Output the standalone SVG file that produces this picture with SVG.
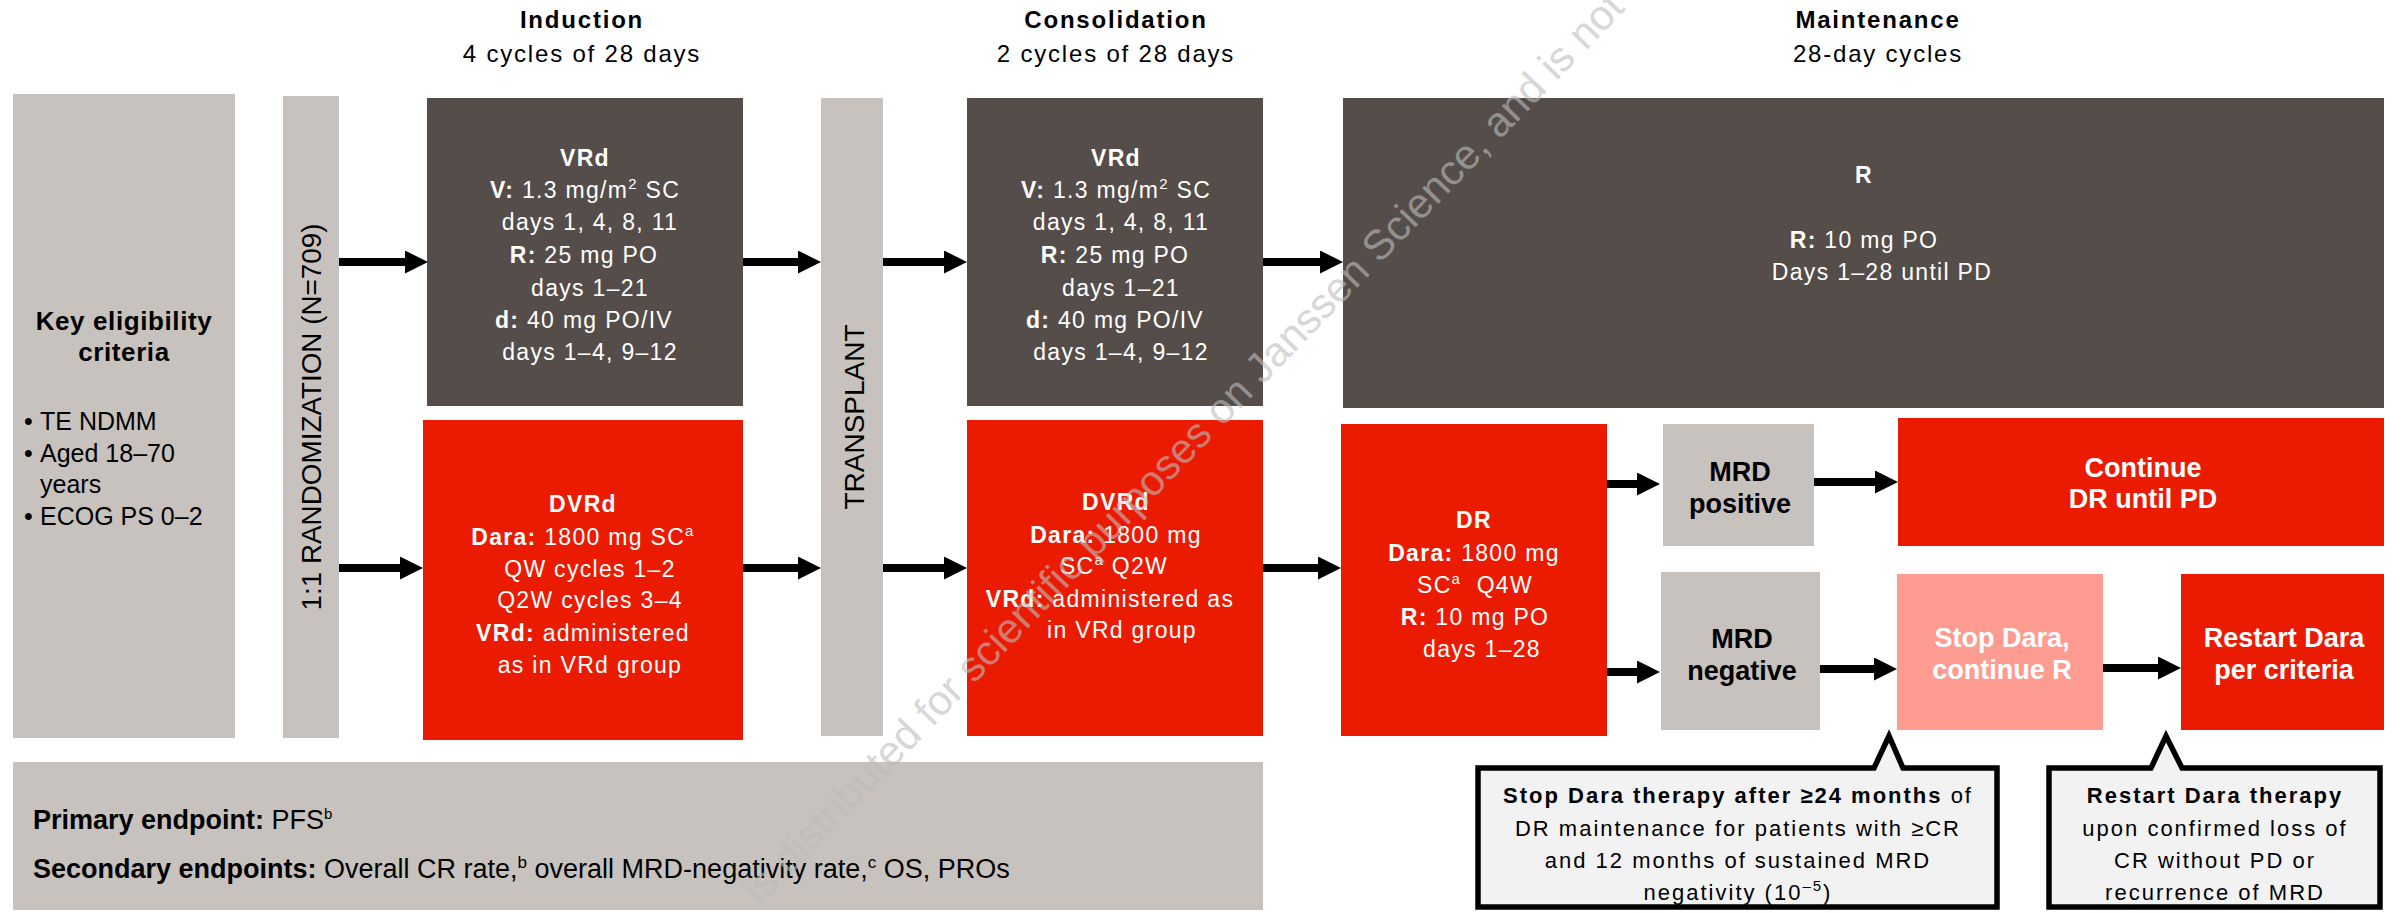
<svg xmlns="http://www.w3.org/2000/svg" width="2402" height="913" viewBox="0 0 2402 913">
<defs>
<style>
text{font-family:"Liberation Sans",Arial,Helvetica,sans-serif}
.title{font-size:24px;letter-spacing:1.8px;text-anchor:middle;fill:#000}
.body{font-size:23px;letter-spacing:1.3px;text-anchor:middle;fill:#fff}
.head{font-size:27px;font-weight:bold;text-anchor:middle}
.call{font-size:22px;letter-spacing:2px;text-anchor:middle;fill:#000}
.ep{font-size:27px;fill:#000}
.b{font-weight:bold}
.sup{font-size:15px}
.dark{fill:#554D49}
.red{fill:#EB1B02}
.grey{fill:#C7C2BE}
.pink{fill:#FF9C92}
.callout{fill:#F2F2F2;stroke:#000;stroke-width:5.5;stroke-linejoin:miter}
</style>
<marker id="ah" markerUnits="userSpaceOnUse" markerWidth="23" markerHeight="23" refX="11" refY="11.5" orient="auto" viewBox="0 0 23 23">
<path d="M0,0 L23,11.5 L0,23 Z" fill="#000"/>
</marker>
</defs>
<rect width="2402" height="913" fill="#fff"/>

<g id="titles">
<text class="title" x="582" y="28" font-weight="bold">Induction</text>
<text class="title" x="582" y="62">4 cycles of 28 days</text>
<text class="title" x="1116" y="28" font-weight="bold">Consolidation</text>
<text class="title" x="1116" y="62">2 cycles of 28 days</text>
<text class="title" x="1878" y="28" font-weight="bold">Maintenance</text>
<text class="title" x="1878" y="62">28-day cycles</text>
</g>

<g id="eligibility">
<rect class="grey" x="13" y="94" width="222" height="644"/>
<text x="124" y="330" font-size="26" font-weight="bold" text-anchor="middle" letter-spacing="0.6">Key eligibility</text>
<text x="124" y="361" font-size="26" font-weight="bold" text-anchor="middle" letter-spacing="0.6">criteria</text>
<text font-size="25" fill="#000"><tspan x="24" y="430">•</tspan><tspan x="40" y="430">TE NDMM</tspan><tspan x="24" y="462">•</tspan><tspan x="40" y="462">Aged 18–70</tspan><tspan x="40" y="493">years</tspan><tspan x="24" y="525">•</tspan><tspan x="40" y="525">ECOG PS 0–2</tspan></text>
</g>

<g id="randomization">
<rect class="grey" x="283" y="96" width="56" height="642"/>
<text transform="translate(321,417) rotate(-90)" font-size="28" text-anchor="middle" fill="#000" textLength="387" lengthAdjust="spacingAndGlyphs">1:1 RANDOMIZATION (N=709)</text>
</g>

<g id="induction-vrd">
<rect class="dark" x="427" y="98" width="316" height="308"/>
<text class="body" x="585" y="166" font-weight="bold">VRd</text>
<text class="body" x="585" y="198"><tspan class="b">V:</tspan> 1.3 mg/m<tspan class="sup" dy="-9">2</tspan><tspan dy="9"> SC</tspan></text>
<text class="body" x="590" y="230">days 1, 4, 8, 11</text>
<text class="body" x="584" y="263"><tspan class="b">R:</tspan> 25 mg PO</text>
<text class="body" x="590" y="296">days 1–21</text>
<text class="body" x="584" y="328"><tspan class="b">d:</tspan> 40 mg PO/IV</text>
<text class="body" x="590" y="360">days 1–4, 9–12</text>
</g>

<g id="induction-dvrd">
<rect class="red" x="423" y="420" width="320" height="320"/>
<text class="body" x="583" y="512" font-size="24" font-weight="bold">DVRd</text>
<text class="body" x="583" y="545"><tspan class="b">Dara:</tspan> 1800 mg SC<tspan class="sup" dy="-9">a</tspan></text>
<text class="body" x="590" y="577">QW cycles 1–2</text>
<text class="body" x="590" y="608">Q2W cycles 3–4</text>
<text class="body" x="583" y="641"><tspan class="b">VRd:</tspan> administered</text>
<text class="body" x="590" y="673">as in VRd group</text>
</g>

<g id="transplant">
<rect class="grey" x="821" y="98" width="62" height="638"/>
<text transform="translate(864,417) rotate(-90)" font-size="28" text-anchor="middle" fill="#000">TRANSPLANT</text>
</g>

<g id="consolidation-vrd">
<rect class="dark" x="967" y="98" width="296" height="308"/>
<text class="body" x="1116" y="166" font-weight="bold">VRd</text>
<text class="body" x="1116" y="198"><tspan class="b">V:</tspan> 1.3 mg/m<tspan class="sup" dy="-9">2</tspan><tspan dy="9"> SC</tspan></text>
<text class="body" x="1121" y="230">days 1, 4, 8, 11</text>
<text class="body" x="1115" y="263"><tspan class="b">R:</tspan> 25 mg PO</text>
<text class="body" x="1121" y="296">days 1–21</text>
<text class="body" x="1115" y="328"><tspan class="b">d:</tspan> 40 mg PO/IV</text>
<text class="body" x="1121" y="360">days 1–4, 9–12</text>
</g>

<g id="consolidation-dvrd">
<rect class="red" x="967" y="420" width="296" height="316"/>
<text class="body" x="1116" y="510" font-size="24" font-weight="bold">DVRd</text>
<text class="body" x="1116" y="543"><tspan class="b">Dara:</tspan> 1800 mg</text>
<text class="body" x="1114" y="574">SC<tspan class="sup" dy="-9">a</tspan><tspan dy="9"> Q2W</tspan></text>
<text class="body" x="1110" y="607"><tspan class="b">VRd:</tspan> administered as</text>
<text class="body" x="1122" y="638">in VRd group</text>
</g>

<g id="maintenance-r">
<rect class="dark" x="1343" y="98" width="1041" height="310"/>
<text class="body" x="1864" y="183" font-weight="bold">R</text>
<text class="body" x="1864" y="248"><tspan class="b">R:</tspan> 10 mg PO</text>
<text class="body" x="1882" y="280">Days 1–28 until PD</text>
</g>

<g id="maintenance-dr">
<rect class="red" x="1341" y="424" width="266" height="312"/>
<text class="body" x="1474" y="528" font-size="26" font-weight="bold">DR</text>
<text class="body" x="1474" y="561"><tspan class="b">Dara:</tspan> 1800 mg</text>
<text class="body" x="1475" y="593" xml:space="preserve">SC<tspan class="sup" dy="-9">a</tspan><tspan dy="9">  Q4W</tspan></text>
<text class="body" x="1475" y="625"><tspan class="b">R:</tspan> 10 mg PO</text>
<text class="body" x="1482" y="657">days 1–28</text>
</g>

<g id="mrd-positive">
<rect class="grey" x="1663" y="424" width="151" height="122"/>
<text class="head" x="1740" y="481" fill="#000">MRD</text>
<text class="head" x="1740" y="513" fill="#000">positive</text>
</g>

<g id="mrd-negative">
<rect class="grey" x="1661" y="572" width="159" height="158"/>
<text class="head" x="1742" y="648" fill="#000">MRD</text>
<text class="head" x="1742" y="680" fill="#000">negative</text>
</g>

<g id="continue-dr">
<rect class="red" x="1898" y="418" width="486" height="128"/>
<text class="head" x="2143" y="477" fill="#fff">Continue</text>
<text class="head" x="2143" y="508" fill="#fff">DR until PD</text>
</g>

<g id="stop-dara">
<rect class="pink" x="1897" y="574" width="206" height="156"/>
<text class="head" x="2002" y="647" fill="#fff">Stop Dara,</text>
<text class="head" x="2002" y="679" fill="#fff">continue R</text>
</g>

<g id="restart-dara">
<rect class="red" x="2181" y="574" width="203" height="156"/>
<text class="head" x="2284" y="647" fill="#fff">Restart Dara</text>
<text class="head" x="2284" y="679" fill="#fff">per criteria</text>
</g>

<g id="endpoints">
<rect class="grey" x="13" y="762" width="1250" height="148"/>
<text class="ep" x="33" y="829"><tspan class="b">Primary endpoint:</tspan> PFS<tspan class="sup" font-size="17" dy="-10">b</tspan></text>
<text class="ep" x="33" y="878"><tspan class="b">Secondary endpoints:</tspan> Overall CR rate,<tspan font-size="17" dy="-10">b</tspan><tspan dy="10"> overall MRD-negativity rate,</tspan><tspan font-size="17" dy="-10">c</tspan><tspan dy="10"> OS, PROs</tspan></text>
</g>

<g id="callout-stop">
<path class="callout" d="M1478,768 H1874 L1889,736 L1903,768 H1997 V907 H1478 Z"/>
<text class="call" x="1738" y="803"><tspan class="b">Stop Dara therapy after ≥24 months</tspan> of</text>
<text class="call" x="1738" y="836">DR maintenance for patients with ≥CR</text>
<text class="call" x="1738" y="868">and 12 months of sustained MRD</text>
<text class="call" x="1738" y="900">negativity (10<tspan class="sup" dy="-9">–5</tspan><tspan dy="9">)</tspan></text>
</g>

<g id="callout-restart">
<path class="callout" d="M2049,768 H2151 L2166,736 L2182,768 H2380 V907 H2049 Z"/>
<text class="call" x="2215" y="803" font-weight="bold">Restart Dara therapy</text>
<text class="call" x="2215" y="836">upon confirmed loss of</text>
<text class="call" x="2215" y="868">CR without PD or</text>
<text class="call" x="2215" y="900">recurrence of MRD</text>
</g>

<g id="connectors" fill="none" stroke="#000" stroke-width="8" marker-end="url(#ah)">
<line x1="339" y1="262" x2="416" y2="262"/>
<line x1="743" y1="262" x2="809" y2="262"/>
<line x1="883" y1="262" x2="955" y2="262"/>
<line x1="1263" y1="262" x2="1331" y2="262"/>
<line x1="339" y1="568" x2="411" y2="568"/>
<line x1="743" y1="568" x2="809" y2="568"/>
<line x1="883" y1="568" x2="955" y2="568"/>
<line x1="1263" y1="568" x2="1329" y2="568"/>
<line x1="1607" y1="484" x2="1648" y2="484"/>
<line x1="1607" y1="672" x2="1648" y2="672"/>
<line x1="1814" y1="482" x2="1886" y2="482"/>
<line x1="1820" y1="669" x2="1885" y2="669"/>
<line x1="2103" y1="668" x2="2169" y2="668"/>
</g>

<g id="watermark">
<text transform="translate(760,906) rotate(-46)" font-size="42" fill="#BDBDBD" opacity="0.6">is distributed for scientific purposes on Janssen Science, and is not</text>
</g>
</svg>
